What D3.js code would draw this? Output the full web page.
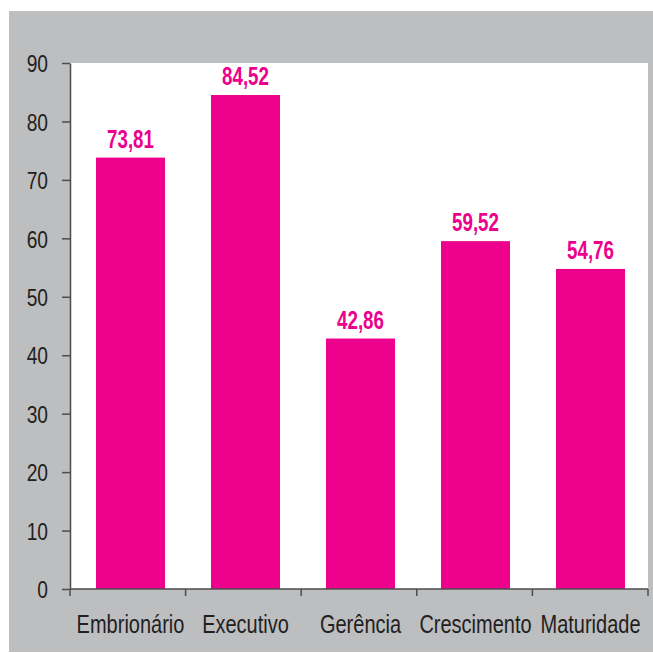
<!DOCTYPE html>
<html>
<head>
<meta charset="utf-8">
<script src="https://cdn.jsdelivr.net/npm/d3@7"></script>
<style>
  body { margin: 0; background: #fff; }
  text { font-family: "Liberation Sans", Arial, sans-serif; }
</style>
</head>
<body>
<div class="chart"></div>
<script>
const categories = ['Embrionário', 'Executivo', 'Gerência', 'Crescimento', 'Maturidade'];
const values = [73.81, 84.52, 42.86, 59.52, 54.76];
const yTicks = [0, 10, 20, 30, 40, 50, 60, 70, 80, 90];

const width = 653, height = 653;
const margin = { top: 63, right: 5, bottom: 64, left: 70 };
const narrow = 0.8; // pas de police étroite installée : on compresse le texte

const svg = d3.select('.chart')
    .append('svg')
    .attr('width', width)
    .attr('height', height);

// fond gris
svg.append('rect')
    .attr('x', 9).attr('y', 11)
    .attr('width', width - 9).attr('height', height - 12)
    .attr('fill', '#bdbec0');

// zone blanche du graphique
svg.append('rect')
    .attr('x', margin.left).attr('y', margin.top)
    .attr('width', width - margin.left - margin.right)
    .attr('height', height - margin.top - margin.bottom)
    .attr('fill', '#fff');

const xScale = d3.scaleBand()
    .domain(categories)
    .range([margin.left + 3, width - margin.right])
    .paddingInner(0.4)
    .paddingOuter(0.2);

const yScale = d3.scaleLinear()
    .domain([0, 90])
    .range([height - margin.bottom, margin.top]);

svg.selectAll('.bar')
    .data(values)
    .enter()
    .append('rect')
    .attr('class', 'bar')
    .attr('x', (d, i) => xScale(categories[i]))
    .attr('y', d => yScale(d))
    .attr('width', xScale.bandwidth())
    .attr('height', d => yScale(0) - yScale(d))
    .attr('fill', '#ec008c');

svg.selectAll('.value')
    .data(values)
    .enter()
    .append('text')
    .attr('class', 'value')
    .attr('transform', (d, i) => `translate(${xScale(categories[i]) + xScale.bandwidth() / 2},${yScale(d) - 10}) scale(0.72,1)`)
    .attr('text-anchor', 'middle')
    .attr('font-size', 26)
    .attr('font-weight', 'bold')
    .attr('fill', '#ec008c')
    .text(d => d.toFixed(2).replace('.', ','));

// axe Y
const yAxis = d3.axisLeft(yScale)
    .tickValues(yTicks)
    .tickSize(8)
    .tickPadding(6)
    .tickSizeOuter(0);

const gy = svg.append('g')
    .attr('transform', `translate(${margin.left},0)`)
    .call(yAxis);
gy.selectAll('text')
    .attr('x', 0)
    .attr('transform', `translate(-22,1) scale(${narrow},1)`)
    .attr('font-size', 24)
    .attr('fill', '#231f20')
    .style('font-family', null);
gy.attr('font-family', null);
gy.selectAll('line, path').attr('stroke', '#4d4d4f').attr('stroke-width', 1.5);

// axe X avec petits traits entre les catégories
const boundaries = d3.range(categories.length + 1)
    .map(i => margin.left + i * (width - margin.right - margin.left) / categories.length);

const gx = svg.append('g');
gx.append('line')
    .attr('x1', margin.left).attr('x2', width - margin.right)
    .attr('y1', yScale(0)).attr('y2', yScale(0))
    .attr('stroke', '#4d4d4f').attr('stroke-width', 1.5);
gx.selectAll('.xtick')
    .data(boundaries)
    .enter()
    .append('line')
    .attr('x1', d => d).attr('x2', d => d)
    .attr('y1', yScale(0)).attr('y2', yScale(0) + 7)
    .attr('stroke', '#4d4d4f').attr('stroke-width', 1.5);
gx.selectAll('.xlabel')
    .data(categories)
    .enter()
    .append('text')
    .attr('transform', d => `translate(${xScale(d) + xScale.bandwidth() / 2},${yScale(0) + 44}) scale(${narrow},1)`)
    .attr('text-anchor', 'middle')
    .attr('font-size', 25)
    .attr('fill', '#231f20')
    .text(d => d);
</script>
</body>
</html>
